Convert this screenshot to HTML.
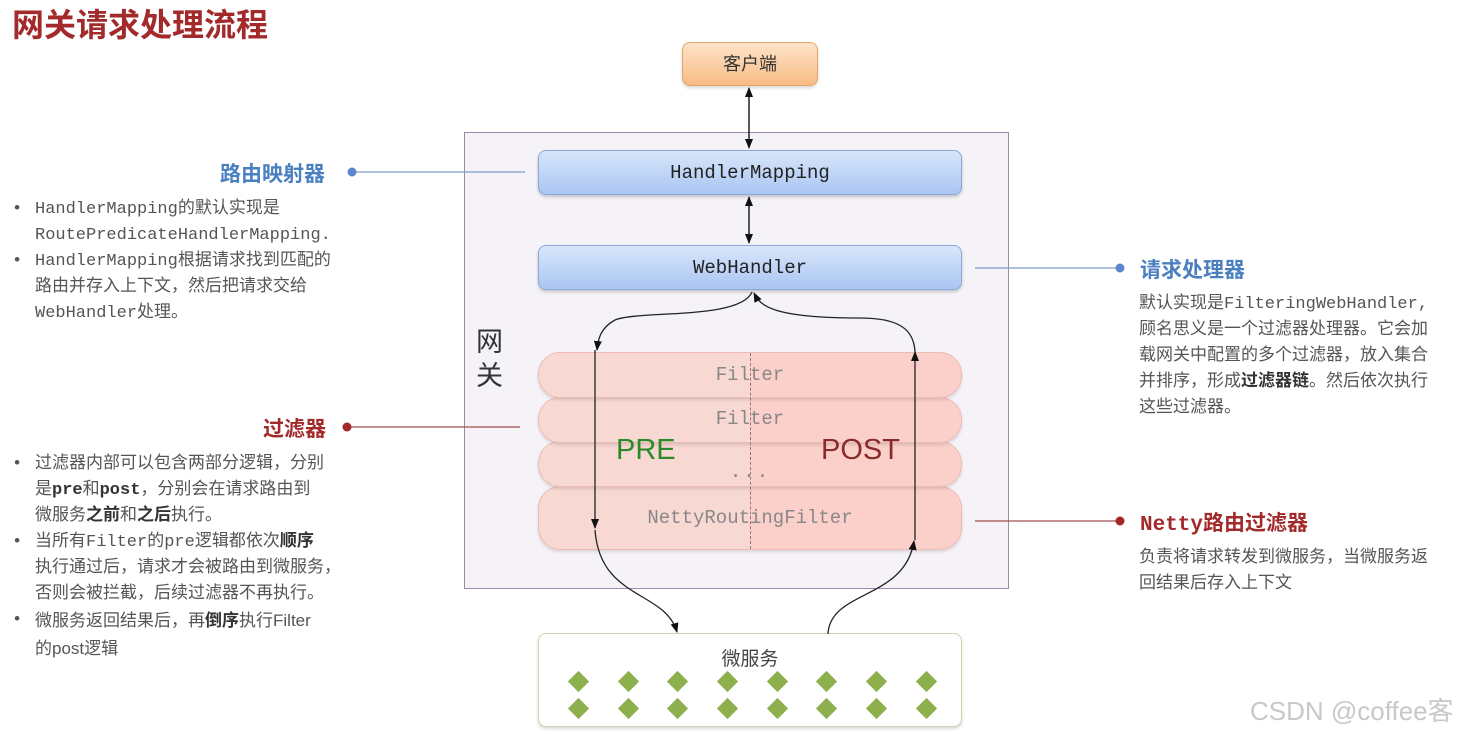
<!DOCTYPE html>
<html><head><meta charset="utf-8">
<style>
*{margin:0;padding:0;box-sizing:border-box}
body{width:1468px;height:734px;background:#fff;position:relative;overflow:hidden;font-family:"Liberation Sans","Noto Sans CJK SC",sans-serif}
.a{position:absolute}
.mono{font-family:"Liberation Mono","Noto Sans CJK SC",monospace}
.txt{font-size:17px;line-height:26px;color:#555;white-space:nowrap}
.box{position:absolute;border-radius:8px;text-align:center}
.blue{background:linear-gradient(#d9e6fb,#a9c6f2);border:1px solid #8aa9d8;box-shadow:0 2px 3px rgba(0,0,0,.2);font-size:19px;color:#222;line-height:44px}
.filt{position:absolute;left:538px;width:424px;border-radius:22px;background:linear-gradient(90deg,#f8d8d2 0%,#f8d8d2 50%,#fbd0ca 50%,#fbd0ca 100%);border:1px solid #ecbcb4;box-shadow:0 2px 3px rgba(0,0,0,.12);color:#888;font-size:19px;text-align:center}
.dia{position:absolute;width:15px;height:15px;background:#8db04d;transform:rotate(45deg)}
</style></head><body>
<div class="a" style="left:12px;top:0px;font-size:32px;font-weight:bold;color:#a32a2a">网关请求处理流程</div>

<div class="box" style="left:682px;top:42px;width:136px;height:44px;background:linear-gradient(#fde3c9,#f8bb85);border:1px solid #e5a56a;line-height:42px;font-size:18px;color:#333;box-shadow:0 2px 3px rgba(0,0,0,.15)">客户端</div>

<div class="a" style="left:464px;top:132px;width:545px;height:457px;background:#f6f3f8;border:1.5px solid #9c8aab"></div>
<div class="a" style="left:476px;top:325px;font-size:27px;line-height:34px;color:#333">网<br>关</div>

<div class="box blue mono" style="left:538px;top:150px;width:424px;height:45px">HandlerMapping</div>
<div class="box blue mono" style="left:538px;top:245px;width:424px;height:45px">WebHandler</div>

<div class="filt mono" style="top:486px;height:64px;line-height:62px">NettyRoutingFilter</div>
<div class="filt mono" style="top:441px;height:46px;line-height:44px"><span style="position:relative;top:8px;left:0;letter-spacing:2px">...</span></div>
<div class="filt mono" style="top:397px;height:46px;line-height:42px">Filter</div>
<div class="filt mono" style="top:352px;height:46px;line-height:44px">Filter</div>
<div class="a" style="left:750px;top:353px;height:196px;border-left:1px dashed #a07070"></div>
<div class="a" style="left:616px;top:434px;font-size:29px;color:#2a8a2a">PRE</div>
<div class="a" style="left:821px;top:434px;font-size:29px;color:#8a2a2a">POST</div>

<div class="box" style="left:538px;top:633px;width:424px;height:94px;background:#fff;border:1.5px solid #c8d6a9;box-shadow:0 2px 3px rgba(0,0,0,.15)"><div style="font-size:19px;color:#444;margin-top:10px">微服务</div></div>
<div class="dia" style="left:571px;top:674px"></div><div class="dia" style="left:621px;top:674px"></div><div class="dia" style="left:670px;top:674px"></div><div class="dia" style="left:720px;top:674px"></div><div class="dia" style="left:770px;top:674px"></div><div class="dia" style="left:819px;top:674px"></div><div class="dia" style="left:869px;top:674px"></div><div class="dia" style="left:919px;top:674px"></div>
<div class="dia" style="left:571px;top:701px"></div><div class="dia" style="left:621px;top:701px"></div><div class="dia" style="left:670px;top:701px"></div><div class="dia" style="left:720px;top:701px"></div><div class="dia" style="left:770px;top:701px"></div><div class="dia" style="left:819px;top:701px"></div><div class="dia" style="left:869px;top:701px"></div><div class="dia" style="left:919px;top:701px"></div>

<svg class="a" style="left:0;top:0" width="1468" height="734">
<defs><marker id="m" markerWidth="10" markerHeight="10" refX="9" refY="5" orient="auto" markerUnits="userSpaceOnUse"><path d="M0,1 L10,5 L0,9 Z" fill="#111"/></marker></defs>
<g stroke="#222" stroke-width="1.3" fill="none">
<line x1="749" y1="97" x2="749" y2="148" marker-end="url(#m)"/>
<line x1="749" y1="138" x2="749" y2="88" marker-end="url(#m)"/>
<line x1="749" y1="205" x2="749" y2="243" marker-end="url(#m)"/>
<line x1="749" y1="235" x2="749" y2="197" marker-end="url(#m)"/>
<path d="M752,292 C740,320 640,310 615,320 C600,328 598,340 597,350" marker-end="url(#m)"/>
<path d="M915,352 C914,330 900,318 860,318 C770,318 760,305 754,293" marker-end="url(#m)"/>
<line x1="595" y1="350" x2="595" y2="528" marker-end="url(#m)"/>
<line x1="915" y1="540" x2="915" y2="352" marker-end="url(#m)"/>
<path d="M595,530 C600,600 665,590 677,632" marker-end="url(#m)"/>
<path d="M828,634 C830,590 905,600 914,541" marker-end="url(#m)"/>
</g>
<g stroke-width="1.2">
<line x1="352" y1="172" x2="525" y2="172" stroke="#7a9cc8"/>
<circle cx="352" cy="172" r="4.5" fill="#5b88c8"/>
<line x1="975" y1="268" x2="1120" y2="268" stroke="#7a9cc8"/>
<circle cx="1120" cy="268" r="4.5" fill="#5b88c8"/>
<line x1="347" y1="427" x2="520" y2="427" stroke="#a05050"/>
<circle cx="347" cy="427" r="4.5" fill="#a32a2a"/>
<line x1="975" y1="521" x2="1120" y2="521" stroke="#a05050"/>
<circle cx="1120" cy="521" r="4.5" fill="#a32a2a"/>
</g>
</svg>

<div class="a" style="left:220px;top:158px;font-size:21px;font-weight:bold;color:#4a7fc0">路由映射器</div>
<div class="a" style="left:1140px;top:254px;font-size:21px;font-weight:bold;color:#4a7fc0">请求处理器</div>
<div class="a" style="left:263px;top:413px;font-size:21px;font-weight:bold;color:#a32a2a">过滤器</div>
<div class="a mono" style="left:1140px;top:507px;font-size:21px;font-weight:bold;color:#a32a2a">Netty路由过滤器</div>

<div class="a txt mono" style="left:12px;top:197px"><span style="position:absolute;left:0">•</span><div style="margin-left:23px">HandlerMapping的默认实现是<br>RoutePredicateHandlerMapping.</div><span style="position:absolute;left:0;top:52px">•</span><div style="margin-left:23px">HandlerMapping根据请求找到匹配的<br>路由并存入上下文，然后把请求交给<br>WebHandler处理。</div></div>

<div class="a txt mono" style="left:1139px;top:292px">默认实现是FilteringWebHandler,<br>顾名思义是一个过滤器处理器。它会加<br>载网关中配置的多个过滤器，放入集合<br>并排序，形成<b style="color:#333">过滤器链</b>。然后依次执行<br>这些过滤器。</div>

<div class="a txt mono" style="left:1139px;top:546px">负责将请求转发到微服务，当微服务返<br>回结果后存入上下文</div>

<div class="a txt mono" style="left:12px;top:452px"><span style="position:absolute;left:0">•</span><span style="position:absolute;left:0;top:78px">•</span><span style="position:absolute;left:0;top:156px">•</span><div style="margin-left:23px">过滤器内部可以包含两部分逻辑，分别<br>是<b style="color:#333">pre</b>和<b style="color:#333">post</b>，分别会在请求路由到<br>微服务<b style="color:#333">之前</b>和<b style="color:#333">之后</b>执行。<br>当所有Filter的pre逻辑都依次<b style="color:#333">顺序</b><br>执行通过后，请求才会被路由到微服务，<br>否则会被拦截，后续过滤器不再执行。<br><span style="font-family:'Liberation Sans','Noto Sans CJK SC',sans-serif">微服务返回结果后，再<b style="color:#333">倒序</b>执行Filter<br>的post逻辑</span></div></div>

<div class="a" style="left:1250px;top:691px;font-size:26px;color:#c8c8c8">CSDN @coffee客</div>
</body></html>
